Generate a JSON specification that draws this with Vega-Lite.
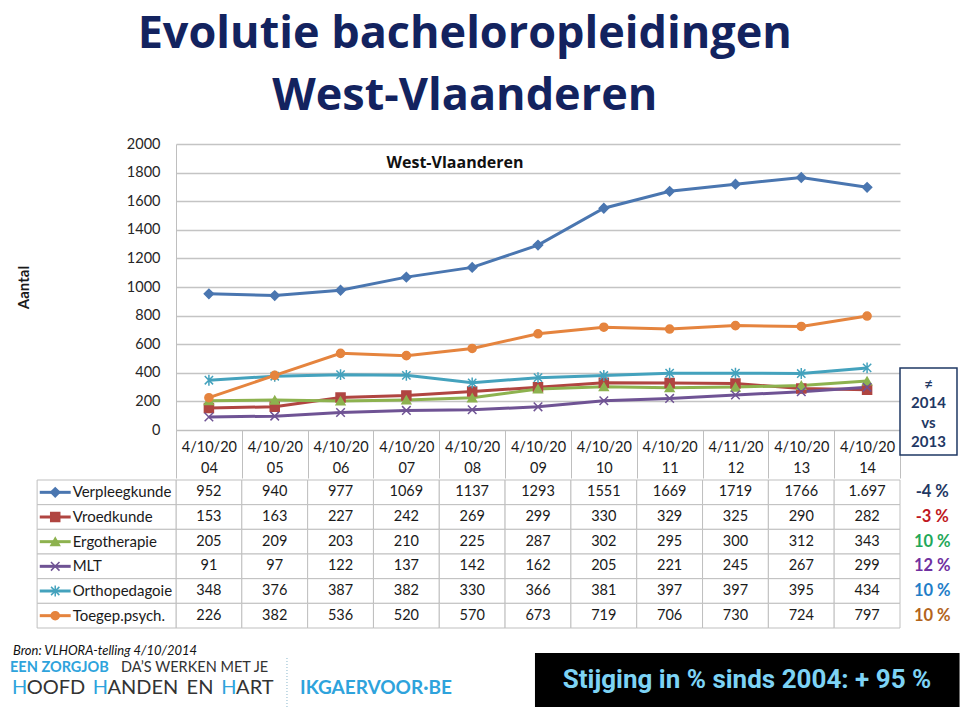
{
 "$schema": "https://vega.github.io/schema/vega-lite/v6.json",
 "background": "white",
 "padding": {"left": 10, "top": 12, "right": 0, "bottom": 0},
 "config": {"view": {"stroke": null}, "font": "Lato"},
 "datasets": {
  "main": [
   {"s":"Verpleegkunde","d":"4/10/2004","v":952},{"s":"Verpleegkunde","d":"4/10/2005","v":940},{"s":"Verpleegkunde","d":"4/10/2006","v":977},{"s":"Verpleegkunde","d":"4/10/2007","v":1069},{"s":"Verpleegkunde","d":"4/10/2008","v":1137},{"s":"Verpleegkunde","d":"4/10/2009","v":1293},{"s":"Verpleegkunde","d":"4/10/2010","v":1551},{"s":"Verpleegkunde","d":"4/10/2011","v":1669},{"s":"Verpleegkunde","d":"4/11/2012","v":1719},{"s":"Verpleegkunde","d":"4/10/2013","v":1766},{"s":"Verpleegkunde","d":"4/10/2014","v":1697,"t":"1.697"},
   {"s":"Vroedkunde","d":"4/10/2004","v":153},{"s":"Vroedkunde","d":"4/10/2005","v":163},{"s":"Vroedkunde","d":"4/10/2006","v":227},{"s":"Vroedkunde","d":"4/10/2007","v":242},{"s":"Vroedkunde","d":"4/10/2008","v":269},{"s":"Vroedkunde","d":"4/10/2009","v":299},{"s":"Vroedkunde","d":"4/10/2010","v":330},{"s":"Vroedkunde","d":"4/10/2011","v":329},{"s":"Vroedkunde","d":"4/11/2012","v":325},{"s":"Vroedkunde","d":"4/10/2013","v":290},{"s":"Vroedkunde","d":"4/10/2014","v":282},
   {"s":"Ergotherapie","d":"4/10/2004","v":205},{"s":"Ergotherapie","d":"4/10/2005","v":209},{"s":"Ergotherapie","d":"4/10/2006","v":203},{"s":"Ergotherapie","d":"4/10/2007","v":210},{"s":"Ergotherapie","d":"4/10/2008","v":225},{"s":"Ergotherapie","d":"4/10/2009","v":287},{"s":"Ergotherapie","d":"4/10/2010","v":302},{"s":"Ergotherapie","d":"4/10/2011","v":295},{"s":"Ergotherapie","d":"4/11/2012","v":300},{"s":"Ergotherapie","d":"4/10/2013","v":312},{"s":"Ergotherapie","d":"4/10/2014","v":343},
   {"s":"MLT","d":"4/10/2004","v":91},{"s":"MLT","d":"4/10/2005","v":97},{"s":"MLT","d":"4/10/2006","v":122},{"s":"MLT","d":"4/10/2007","v":137},{"s":"MLT","d":"4/10/2008","v":142},{"s":"MLT","d":"4/10/2009","v":162},{"s":"MLT","d":"4/10/2010","v":205},{"s":"MLT","d":"4/10/2011","v":221},{"s":"MLT","d":"4/11/2012","v":245},{"s":"MLT","d":"4/10/2013","v":267},{"s":"MLT","d":"4/10/2014","v":299},
   {"s":"Orthopedagoie","d":"4/10/2004","v":348},{"s":"Orthopedagoie","d":"4/10/2005","v":376},{"s":"Orthopedagoie","d":"4/10/2006","v":387},{"s":"Orthopedagoie","d":"4/10/2007","v":382},{"s":"Orthopedagoie","d":"4/10/2008","v":330},{"s":"Orthopedagoie","d":"4/10/2009","v":366},{"s":"Orthopedagoie","d":"4/10/2010","v":381},{"s":"Orthopedagoie","d":"4/10/2011","v":397},{"s":"Orthopedagoie","d":"4/11/2012","v":397},{"s":"Orthopedagoie","d":"4/10/2013","v":395},{"s":"Orthopedagoie","d":"4/10/2014","v":434},
   {"s":"Toegep.psych.","d":"4/10/2004","v":226},{"s":"Toegep.psych.","d":"4/10/2005","v":382},{"s":"Toegep.psych.","d":"4/10/2006","v":536},{"s":"Toegep.psych.","d":"4/10/2007","v":520},{"s":"Toegep.psych.","d":"4/10/2008","v":570},{"s":"Toegep.psych.","d":"4/10/2009","v":673},{"s":"Toegep.psych.","d":"4/10/2010","v":719},{"s":"Toegep.psych.","d":"4/10/2011","v":706},{"s":"Toegep.psych.","d":"4/11/2012","v":730},{"s":"Toegep.psych.","d":"4/10/2013","v":724},{"s":"Toegep.psych.","d":"4/10/2014","v":797}
  ],
  "series": [
   {"s":"Verpleegkunde","c":"-4  %"},{"s":"Vroedkunde","c":"-3 %"},{"s":"Ergotherapie","c":"10 %"},{"s":"MLT","c":"12 %"},{"s":"Orthopedagoie","c":"10 %"},{"s":"Toegep.psych.","c":"10 %"}
  ],
  "one": [{}]
 },
 "title": {"text": ["Evolutie bacheloropleidingen", "West-Vlaanderen"], "font": "Open Sans", "fontSize": 45, "fontWeight": "bold", "color": "#13235f", "lineHeight": 62, "anchor": "middle", "offset": 17, "dx": -20},
 "spacing": 0,
 "vconcat": [
  {
   "width": 724, "height": 286,
   "data": {"name": "main"},
   "title": {"text": "West-Vlaanderen", "offset": -35, "anchor": "middle", "frame": "group", "dx": -83, "font": "Open Sans", "fontSize": 16, "fontWeight": "bold", "color": "#111111"},
   "layer": [
    {"mark": {"type": "line", "strokeWidth": 3},
     "encoding": {
      "x": {"field": "d", "type": "nominal", "bandPosition": 0.5, "scale": {"type": "band", "domain": ["4/10/2004","4/10/2005","4/10/2006","4/10/2007","4/10/2008","4/10/2009","4/10/2010","4/10/2011","4/11/2012","4/10/2013","4/10/2014"], "paddingInner": 0, "paddingOuter": 0},
       "axis": {"title": null, "labelExpr": "[slice(datum.label,0,7), slice(datum.label,7)]", "labelAngle": 0, "labelPadding": -38, "labelLineHeight": 21, "labelFontSize": 14.5, "labelColor": "#1a1a1a", "labelBaseline": "top", "labelOverlap": false, "tickBand": "extent", "tickSize": 48, "tickColor": "#bfbfbf", "tickWidth": 1, "domainColor": "#bfbfbf", "domainWidth": 1, "grid": false}},
      "y": {"field": "v", "type": "quantitative", "scale": {"domain": [0, 2000], "nice": false},
       "axis": {"title": "Aantal", "format": "d", "tickCount": 12, "values": [0,200,400,600,800,1000,1200,1400,1600,1800,2000], "labelOverlap": false, "grid": true, "gridColor": "#c4c4c4", "gridWidth": 1.3, "domainColor": "#bfbfbf", "ticks": false, "tickSize": 0, "labelPadding": 16, "labelFontSize": 14.5, "labelColor": "#262626", "titleFontSize": 15, "titleFontWeight": "bold", "titleColor": "#1a1a1a", "titlePadding": 95}},
      "color": {"field": "s", "type": "nominal", "scale": {"domain": ["Verpleegkunde","Vroedkunde","Ergotherapie","MLT","Orthopedagoie","Toegep.psych."], "range": ["#4a76b0","#b04541","#8db24f","#6f5394","#44a2bd","#e5843e"]}, "legend": null}
     }},
    {"mark": {"type": "point", "filled": true, "opacity": 1, "strokeWidth": 1.5},
     "encoding": {
      "x": {"field": "d", "type": "nominal", "bandPosition": 0.5, "scale": {"type": "band", "domain": ["4/10/2004","4/10/2005","4/10/2006","4/10/2007","4/10/2008","4/10/2009","4/10/2010","4/10/2011","4/11/2012","4/10/2013","4/10/2014"], "paddingInner": 0, "paddingOuter": 0}, "axis": null},
      "y": {"field": "v", "type": "quantitative"},
      "color": {"field": "s", "type": "nominal", "legend": null},
      "stroke": {"field": "s", "type": "nominal", "scale": {"domain": ["Verpleegkunde","Vroedkunde","Ergotherapie","MLT","Orthopedagoie","Toegep.psych."], "range": ["#4a76b0","#b04541","#8db24f","#6f5394","#44a2bd","#e5843e"]}, "legend": null},
      "shape": {"field": "s", "type": "nominal", "scale": {"domain": ["Verpleegkunde","Vroedkunde","Ergotherapie","MLT","Orthopedagoie","Toegep.psych."], "range": ["diamond","square","triangle-up","M-1,-1L1,1M-1,1L1,-1","M-1,-1L1,1M-1,1L1,-1M0,-1.3L0,1.3","circle"]}, "legend": null},
      "size": {"field": "s", "type": "ordinal", "scale": {"domain": ["Verpleegkunde","Vroedkunde","Ergotherapie","MLT","Orthopedagoie","Toegep.psych."], "range": [85,65,75,60,80,115]}, "legend": null}
     }},
    {"data": {"name": "one"}, "mark": {"type": "rect", "fill": "white", "stroke": "#1f3864", "strokeWidth": 1.5},
     "encoding": {"x": {"datum": 11, "type": "quantitative", "scale": {"domain": [0, 11], "nice": false, "zero": false}, "axis": null}, "x2": {"datum": 11.866}, "y": {"datum": 434, "type": "quantitative"}, "y2": {"datum": -175}}},
    {"data": {"name": "one"}, "mark": {"type": "text", "text": ["≠", "2014", "vs", "2013"], "lineHeight": 19.5, "fontSize": 15, "fontWeight": "bold", "color": "#1f3864", "baseline": "middle", "align": "center"},
     "encoding": {"x": {"datum": 11.433, "type": "quantitative", "scale": {"domain": [0, 11], "nice": false, "zero": false}, "axis": null}, "y": {"datum": 322, "type": "quantitative"}}}
   ],
   "resolve": {"scale": {"x": "independent"}, "axis": {"x": "independent"}}
  },
  {
   "width": 724, "height": 148,
   "layer": [
    {"data": {"name": "main"}, "mark": {"type": "rect", "fill": "white", "stroke": "#bfbfbf", "strokeWidth": 1},
     "encoding": {
      "x": {"field": "d", "type": "nominal", "scale": {"type": "band", "domain": ["4/10/2004","4/10/2005","4/10/2006","4/10/2007","4/10/2008","4/10/2009","4/10/2010","4/10/2011","4/11/2012","4/10/2013","4/10/2014"], "paddingInner": 0, "paddingOuter": 0}, "axis": null},
      "y": {"field": "s", "type": "nominal", "scale": {"type": "band", "domain": ["Verpleegkunde","Vroedkunde","Ergotherapie","MLT","Orthopedagoie","Toegep.psych."], "paddingInner": 0, "paddingOuter": 0}, "axis": null}
     }},
    {"data": {"name": "main"}, "transform": [{"calculate": "datum.t ? datum.t : '' + datum.v", "as": "lab"}],
     "mark": {"type": "text", "fontSize": 14.5, "color": "#1a1a1a", "baseline": "middle", "align": "center"},
     "encoding": {
      "x": {"field": "d", "type": "nominal", "bandPosition": 0.5, "scale": {"type": "band", "domain": ["4/10/2004","4/10/2005","4/10/2006","4/10/2007","4/10/2008","4/10/2009","4/10/2010","4/10/2011","4/11/2012","4/10/2013","4/10/2014"], "paddingInner": 0, "paddingOuter": 0}, "axis": null},
      "y": {"field": "s", "type": "nominal", "bandPosition": 0.5},
      "text": {"field": "lab"}
     }},
    {"data": {"name": "series"}, "mark": {"type": "rect", "fill": "white", "stroke": "#bfbfbf", "strokeWidth": 1},
     "encoding": {"x": {"datum": -2.11, "type": "quantitative", "scale": {"domain": [0, 11], "nice": false, "zero": false}, "axis": null}, "x2": {"datum": 0}, "y": {"field": "s", "type": "nominal"}}},
    {"data": {"name": "series"}, "mark": {"type": "rule", "strokeWidth": 3},
     "encoding": {"x": {"datum": -2.07, "type": "quantitative", "scale": {"domain": [0, 11], "nice": false, "zero": false}, "axis": null}, "x2": {"datum": -1.6}, "y": {"field": "s", "type": "nominal", "bandPosition": 0.5},
      "color": {"field": "s", "type": "nominal", "legend": null}}},
    {"data": {"name": "series"}, "mark": {"type": "point", "filled": true, "opacity": 1, "strokeWidth": 1.5},
     "encoding": {"x": {"datum": -1.835, "type": "quantitative", "scale": {"domain": [0, 11], "nice": false, "zero": false}, "axis": null}, "y": {"field": "s", "type": "nominal", "bandPosition": 0.5},
      "color": {"field": "s", "type": "nominal", "legend": null},
      "stroke": {"field": "s", "type": "nominal", "legend": null},
      "shape": {"field": "s", "type": "nominal", "legend": null},
      "size": {"field": "s", "type": "ordinal", "legend": null}}},
    {"data": {"name": "series"}, "mark": {"type": "text", "fontSize": 15, "color": "#1a1a1a", "baseline": "middle", "align": "left"},
     "encoding": {"x": {"datum": -1.57, "type": "quantitative", "scale": {"domain": [0, 11], "nice": false, "zero": false}, "axis": null}, "y": {"field": "s", "type": "nominal", "bandPosition": 0.5}, "text": {"field": "s"}}},
    {"data": {"name": "series"}, "mark": {"type": "text", "fontSize": 16.5, "fontWeight": "bold", "baseline": "middle", "align": "center"},
     "encoding": {"x": {"datum": 11.49, "type": "quantitative", "scale": {"domain": [0, 11], "nice": false, "zero": false}, "axis": null}, "y": {"field": "s", "type": "nominal", "bandPosition": 0.5}, "text": {"field": "c"},
      "fill": {"field": "s", "type": "nominal", "scale": {"domain": ["Verpleegkunde","Vroedkunde","Ergotherapie","MLT","Orthopedagoie","Toegep.psych."], "range": ["#1f3864","#c0171e","#1fa85a","#7030a0","#1f7ec8","#b3641b"]}, "legend": null}}}
   ],
   "resolve": {"scale": {"x": "independent"}, "axis": {"x": "independent"}}
  },
  {
   "width": 724, "height": 80,
   "data": {"name": "one"},
   "layer": [
    {"mark": {"type": "rect", "fill": "black"},
     "encoding": {"x": {"datum": 5.454, "type": "quantitative", "scale": {"domain": [0, 11], "nice": false, "zero": false}, "axis": null}, "x2": {"datum": 11.905},
      "y": {"datum": 24, "type": "quantitative", "scale": {"domain": [0, 80], "reverse": true, "nice": false, "zero": false}, "axis": null}, "y2": {"datum": 80}}},
    {"mark": {"type": "text", "text": "Stijging in % sinds 2004: + 95 %", "font": "Roboto", "fontSize": 26, "fontWeight": "bold", "color": "#7dd3f5", "align": "center", "baseline": "middle"},
     "encoding": {"x": {"datum": 8.675, "type": "quantitative"}, "y": {"datum": 51, "type": "quantitative"}}},
    {"mark": {"type": "text", "text": "Bron: VLHORA-telling 4/10/2014", "fontSize": 13, "fontStyle": "italic", "color": "#111111", "align": "left", "baseline": "middle"},
     "encoding": {"x": {"datum": -2.477, "type": "quantitative"}, "y": {"datum": 22, "type": "quantitative"}}},
    {"mark": {"type": "text", "text": "EEN ZORGJOB", "fontSize": 14.5, "fontWeight": "bold", "color": "#2ea3dc", "align": "left", "baseline": "middle"},
     "encoding": {"x": {"datum": -2.522, "type": "quantitative"}, "y": {"datum": 39, "type": "quantitative"}}},
    {"mark": {"type": "text", "text": "DA’S WERKEN MET JE", "fontSize": 14.5, "color": "#333333", "align": "left", "baseline": "middle"},
     "encoding": {"x": {"datum": -0.836, "type": "quantitative"}, "y": {"datum": 39, "type": "quantitative"}}},
    {"mark": {"type": "text", "text": "H", "fontSize": 20, "color": "#2ea3dc", "align": "left", "baseline": "middle"},
     "encoding": {"x": {"datum": -2.492, "type": "quantitative"}, "y": {"datum": 59, "type": "quantitative"}}},
    {"mark": {"type": "text", "text": "OOFD", "fontSize": 20, "color": "#333333", "align": "left", "baseline": "middle"},
     "encoding": {"x": {"datum": -2.267, "type": "quantitative"}, "y": {"datum": 59, "type": "quantitative"}}},
    {"mark": {"type": "text", "text": "H", "fontSize": 20, "color": "#2ea3dc", "align": "left", "baseline": "middle"},
     "encoding": {"x": {"datum": -1.266, "type": "quantitative"}, "y": {"datum": 59, "type": "quantitative"}}},
    {"mark": {"type": "text", "text": "ANDEN", "fontSize": 20, "color": "#333333", "align": "left", "baseline": "middle"},
     "encoding": {"x": {"datum": -1.041, "type": "quantitative"}, "y": {"datum": 59, "type": "quantitative"}}},
    {"mark": {"type": "text", "text": "EN", "fontSize": 20, "color": "#333333", "align": "left", "baseline": "middle"},
     "encoding": {"x": {"datum": 0.161, "type": "quantitative"}, "y": {"datum": 59, "type": "quantitative"}}},
    {"mark": {"type": "text", "text": "H", "fontSize": 20, "color": "#2ea3dc", "align": "left", "baseline": "middle"},
     "encoding": {"x": {"datum": 0.688, "type": "quantitative"}, "y": {"datum": 59, "type": "quantitative"}}},
    {"mark": {"type": "text", "text": "ART", "fontSize": 20, "color": "#333333", "align": "left", "baseline": "middle"},
     "encoding": {"x": {"datum": 0.913, "type": "quantitative"}, "y": {"datum": 59, "type": "quantitative"}}},
    {"mark": {"type": "rule", "strokeDash": [1, 2], "color": "#8ab7cc", "strokeWidth": 1},
     "encoding": {"x": {"datum": 1.686, "type": "quantitative"}, "y": {"datum": 29, "type": "quantitative"}, "y2": {"datum": 78}}},
    {"mark": {"type": "text", "text": "IKGAERVOOR·BE", "fontSize": 19, "fontWeight": "bold", "color": "#2ea3dc", "align": "left", "baseline": "middle"},
     "encoding": {"x": {"datum": 1.884, "type": "quantitative"}, "y": {"datum": 59, "type": "quantitative"}}}
   ]
  }
 ]
}
